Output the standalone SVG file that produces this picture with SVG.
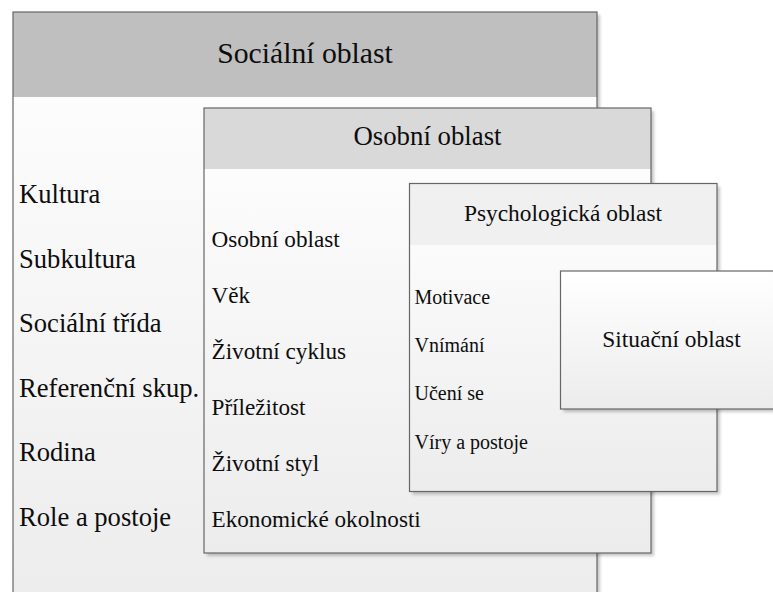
<svg xmlns="http://www.w3.org/2000/svg" width="773" height="592" viewBox="0 0 773 592">
  <defs>
    <linearGradient id="bodyFill" x1="0" y1="0" x2="0" y2="1">
      <stop offset="0" stop-color="#ffffff"/>
      <stop offset="1" stop-color="#ececec"/>
    </linearGradient>
    <filter id="shadow" x="-5%" y="-5%" width="115%" height="115%">
      <feDropShadow dx="3" dy="3" stdDeviation="1.5" flood-color="#000" flood-opacity="0.22"/>
    </filter>
  </defs>
  <style>
    .frame { fill: none; stroke: #666666; stroke-width: 1.2; }
    .body { fill: url(#bodyFill); }
    text { fill: #0d0d0d; }
    .title { text-anchor: middle; }
  </style>

  <rect width="773" height="592" fill="#ffffff"/>

  <!-- outer area: social influences -->
  <g id="social" font-family="Liberation Serif, serif">
    <g filter="url(#shadow)">
      <rect class="body" x="13" y="12" width="584" height="600"/>
    </g>
    <rect x="13" y="12" width="584" height="85" fill="#bfbfbf"/>
    <rect class="frame" x="13" y="12" width="584" height="600"/>
    <text class="title" x="305" y="63" font-size="29.7">Sociální oblast</text>
    <g font-size="26.6">
      <text x="19" y="203">Kultura</text>
      <text x="19" y="268">Subkultura</text>
      <text x="19" y="332">Sociální třída</text>
      <text x="19" y="397">Referenční skup.</text>
      <text x="19" y="461">Rodina</text>
      <text x="19" y="526">Role a postoje</text>
    </g>
  </g>

  <!-- personal influences -->
  <g id="personal" font-family="Liberation Serif, serif">
    <g filter="url(#shadow)">
      <rect class="body" x="204" y="108" width="447" height="445"/>
    </g>
    <rect x="204" y="108" width="447" height="61" fill="#d9d9d9"/>
    <rect class="frame" x="204" y="108" width="447" height="445"/>
    <text class="title" x="427.5" y="145" font-size="26.8">Osobní oblast</text>
    <g font-size="23.2">
      <text x="211.5" y="247">Osobní oblast</text>
      <text x="211.5" y="303">Věk</text>
      <text x="211.5" y="359">Životní cyklus</text>
      <text x="211.5" y="415">Příležitost</text>
      <text x="211.5" y="471">Životní styl</text>
      <text x="211.5" y="527">Ekonomické okolnosti</text>
    </g>
  </g>

  <!-- psychological influences -->
  <g id="psychological" font-family="Liberation Serif, serif">
    <g filter="url(#shadow)">
      <rect class="body" x="409.5" y="183.5" width="307.5" height="308"/>
    </g>
    <rect x="409.5" y="183.5" width="307.5" height="61.5" fill="#f0f0f0"/>
    <rect class="frame" x="409.5" y="183.5" width="307.5" height="308"/>
    <text class="title" x="563" y="221" font-size="23.4">Psychologická oblast</text>
    <g font-size="20">
      <text x="414.5" y="303.5">Motivace</text>
      <text x="414.5" y="352">Vnímání</text>
      <text x="414.5" y="400">Učení se</text>
      <text x="414.5" y="448.5">Víry a postoje</text>
    </g>
  </g>

  <!-- situational influences -->
  <g id="situational" font-family="Liberation Serif, serif">
    <g filter="url(#shadow)">
      <rect class="body" x="560.5" y="271" width="223" height="138"/>
    </g>
    <rect class="frame" x="560.5" y="271" width="223" height="138"/>
    <text class="title" x="671.5" y="347" font-size="23.4">Situační oblast</text>
  </g>
</svg>
